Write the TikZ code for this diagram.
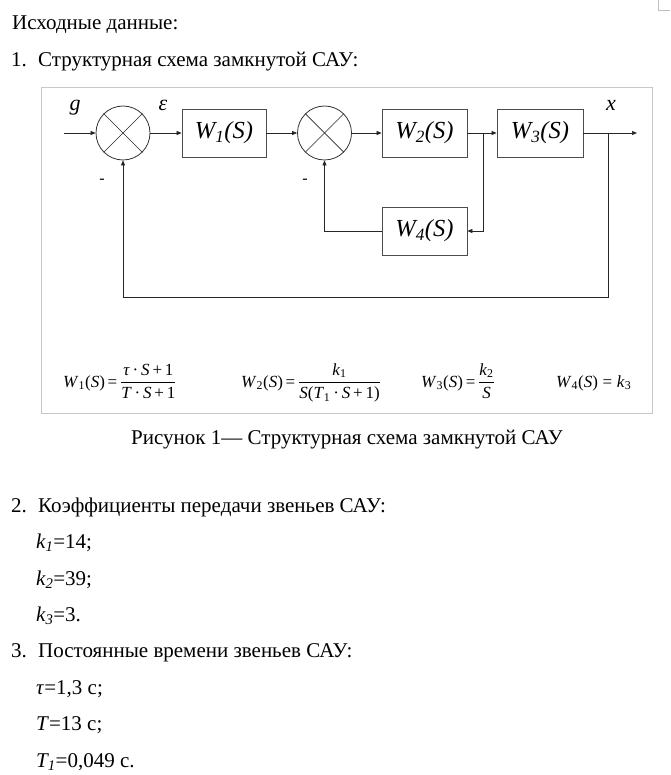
\documentclass[tikz,border=0pt]{standalone}
\usepackage{fontspec}
\setmainfont{Liberation Serif}
\usetikzlibrary{arrows.meta}
\newcommand{\iv}[1]{\textit{#1}}
\begin{document}
\begin{tikzpicture}[x=1pt,y=-1pt,
  body/.style={anchor=base west, inner sep=0pt, font=\fontsize{21}{24}\selectfont},
  blk/.style={draw=black!70, line width=0.8pt, minimum width=85pt, minimum height=48pt, inner sep=0pt, font=\fontsize{24.5}{27}\selectfont\itshape},
  sumc/.style={draw=black!80, circle, minimum size=54pt, inner sep=0pt, line width=0.8pt},
  conn/.style={draw=black!85, line width=0.7pt},
  arr/.style={conn, -{Triangle[length=5pt,width=4pt]}},
  sig/.style={anchor=base, inner sep=0pt, font=\fontsize{22}{24}\selectfont\itshape},
  minus/.style={anchor=center, inner sep=0pt, font=\fontsize{16}{18}\selectfont},
  eq/.style={anchor=base west, inner sep=0pt, font=\fontsize{17}{20}\selectfont},
  frame/.style={draw=black!22, line width=0.9pt}
]
\useasboundingbox (0,0) rectangle (670,775);
\fill[white] (0,0) rectangle (670,775);
% corner mark
\draw[black!25, line width=0.7pt] (658,0) -- (658,10) -- (670,10);

% header text
\node[body] (h0) at (12,30) {Исходные данные:};
\node[body] (n1) at (11,67) {1.};
\node[body] (t1) at (38,67) {Структурная схема замкнутой САУ:};

% frame
\draw[frame] (41,87) rectangle (652,413);

% blocks
\node[sumc] (s1) at (123,133) {};
\draw[conn] (s1.45) -- (s1.225);
\draw[conn] (s1.135) -- (s1.-45);
\node[sumc] (s2) at (324.5,133) {};
\draw[conn] (s2.45) -- (s2.225);
\draw[conn] (s2.135) -- (s2.-45);
\node[blk, minimum width=84pt] (w1) at (224,133) {W\textsubscript{1}(S)};
\node[blk] (w2) at (424.5,133) {W\textsubscript{2}(S)};
\node[blk, minimum width=86pt] (w3) at (540,133) {W\textsubscript{3}(S)};
\node[blk] (w4) at (424.5,231) {W\textsubscript{4}(S)};

% connectors
\coordinate (in) at (64,133);
\coordinate (out) at (637,133);
\coordinate (br1) at (483,133);
\coordinate (br2) at (608,133);
\coordinate (fb) at (608,297);
\draw[arr] (in) -- (s1.west);
\draw[arr] (s1.east) -- (w1.west);
\draw[arr] (w1.east) -- (s2.west);
\draw[arr] (s2.east) -- (w2.west);
\draw[arr] (w2.east) -- (w3.west);
\draw[arr] (w3.east) -- (out);
\draw[arr] (br1) |- (w4.east);
\draw[arr] (br2) -- (fb) -| (s1.south);
\draw[arr] (w4.west) -| (s2.south);

% signal labels
\node[sig] (lg) at (75,111) {g};
\node[sig] (le) at (163,111) {ε};
\node[sig] (lx) at (611,111) {x};
\node[minus] (m1) at (102,181) {-};
\node[minus] (m2) at (305,181) {-};

% equations
\node[eq] (e1) at (63,387) {\iv{W}\textsubscript{1}(\iv{S})\,=\,$\displaystyle\frac{\mbox{\iv{τ}\,·\,\iv{S}\,+\,1}}{\mbox{\iv{T}\,·\,\iv{S}\,+\,1}}$};
\node[eq] (e2) at (241,387) {\iv{W}\textsubscript{2}(\iv{S})\,=\,$\displaystyle\frac{\mbox{\iv{k}\textsubscript{1}}}{\mbox{\iv{S}(\iv{T}\textsubscript{1}\,·\,\iv{S}\,+\,1)}}$};
\node[eq] (e3) at (421,387) {\iv{W}\textsubscript{3}(\iv{S})\,=\,$\displaystyle\frac{\mbox{\iv{k}\textsubscript{2}}}{\mbox{\iv{S}}}$};
\node[eq] (e4) at (556,387) {\iv{W}\textsubscript{4}(\iv{S})\;=\;\iv{k}\textsubscript{3}};

% caption
\node[body, anchor=base] (cap) at (347,444) {Рисунок 1— Структурная схема замкнутой САУ};

% list 2
\node[body] (n2) at (11,512) {2.};
\node[body] (t2) at (38,512) {Коэффициенты передачи звеньев САУ:};
\node[body] (k1) at (36,548) {\iv{k\textsubscript{1}}=14;};
\node[body] (k2) at (36,585) {\iv{k\textsubscript{2}}=39;};
\node[body] (k3) at (36,621) {\iv{k\textsubscript{3}}=3.};
% list 3
\node[body] (n3) at (11,657) {3.};
\node[body] (t3) at (38,657) {Постоянные времени звеньев САУ:};
\node[body] (p1) at (36,694) {\iv{τ}=1,3 с;};
\node[body] (p2) at (36,730) {\iv{T}=13 с;};
\node[body] (p3) at (36,767) {\iv{T\textsubscript{1}}=0,049 с.};
\end{tikzpicture}
\end{document}
